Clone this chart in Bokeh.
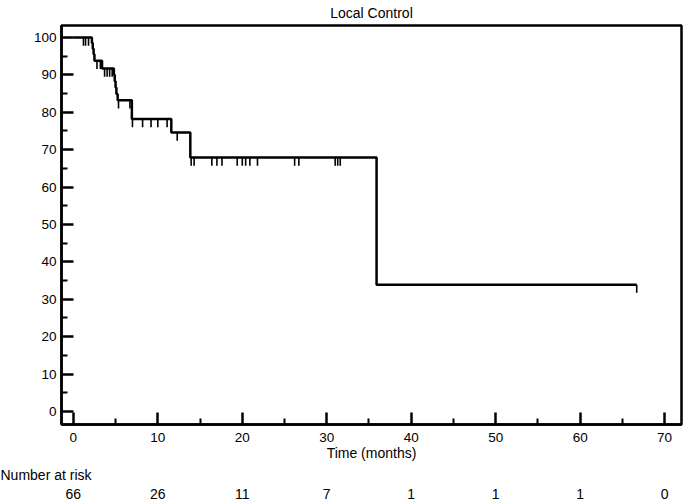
import numpy as np
from bokeh.plotting import figure
from bokeh.models import FixedTicker, Range1d, LinearAxis, Title
from bokeh.embed import file_html
from bokeh.resources import INLINE

# Kaplan-Meier step curve (event times in months, survival % after event)
step_times = [0, 2.2, 2.3, 2.4, 2.5, 3.4, 4.8, 4.9, 5.0, 5.1, 5.25, 6.93, 11.6, 13.85, 35.9, 66.7]
step_surv = [100, 98.5, 97.0, 95.5, 93.8, 91.7, 90.0, 88.3, 86.6, 84.9, 83.2, 78.2, 74.6, 67.9, 33.9, 33.9]

# censored observation times (months)
censor_times = [1.2, 1.45, 1.8, 2.8, 3.2, 3.7, 4.0, 4.3, 4.6, 5.35, 6.7, 7.0, 8.2, 9.2, 10.0,
                11.1, 12.3, 13.95, 14.3, 16.4, 17.0, 17.6, 19.4, 20.0, 20.4, 20.9, 21.8,
                26.2, 26.7, 31.0, 31.3, 31.6, 66.7]

# number at risk
risk_times = [0, 10, 20, 30, 40, 50, 60, 70]
risk_counts = ["66", "26", "11", "7", "1", "1", "1", "0"]

x_ticks = [0, 10, 20, 30, 40, 50, 60, 70]
y_ticks = [0, 10, 20, 30, 40, 50, 60, 70, 80, 90, 100]

FONT = "Liberation Sans"

p = figure(width=685, height=501, output_backend="svg", toolbar_location=None,
           x_range=Range1d(-1.4, 72), y_range=Range1d(-3.5, 103.2),
           min_border_left=61, min_border_right=4, min_border_top=25, min_border_bottom=20)
p.background_fill_color = "white"
p.border_fill_color = "white"
p.grid.visible = False
p.outline_line_color = "black"
p.outline_line_width = 2.5

title = Title(text="Local Control", align="center", vertical_align="top", text_font=FONT,
              text_font_size="14px", text_font_style="normal", text_color="black",
              standoff=5, offset=0)
p.add_layout(title, "above")

for ax in (p.xaxis, p.yaxis):
    ax.axis_line_width = 2.5
    ax.axis_line_color = "black"
    ax.major_tick_in = 12
    ax.major_tick_out = 0
    ax.minor_tick_in = 6
    ax.minor_tick_out = 0
    ax.major_tick_line_width = 2.5
    ax.minor_tick_line_width = 2
    ax.major_label_text_font = FONT
    ax.major_label_text_font_size = "13.5px"
    ax.major_label_text_color = "black"

p.xaxis.ticker = FixedTicker(ticks=x_ticks, minor_ticks=[t + 5 for t in x_ticks[:-1]])
p.yaxis.ticker = FixedTicker(ticks=y_ticks, minor_ticks=[t + 5 for t in y_ticks[:-1]])
p.xaxis.major_label_standoff = 8
p.yaxis.major_label_standoff = 5
p.xaxis.axis_label = "Time (months)"
p.xaxis.axis_label_text_font = FONT
p.xaxis.axis_label_text_font_size = "14px"
p.xaxis.axis_label_text_font_style = "normal"
p.xaxis.axis_label_text_color = "black"
p.xaxis.axis_label_standoff = 0

# "Number at risk" heading, then the counts, under the time axis
risk_title = Title(text="Number at risk", align="left", text_font=FONT, text_font_size="14px",
                   text_font_style="normal", text_color="black", offset=-61, standoff=2)
p.add_layout(risk_title, "below")

risk_axis = LinearAxis(ticker=FixedTicker(ticks=risk_times),
                       major_label_overrides=dict(zip(risk_times, risk_counts)),
                       axis_line_color=None, major_tick_line_color=None,
                       minor_tick_line_color=None, major_label_standoff=-1,
                       major_label_text_font=FONT, major_label_text_font_size="14px",
                       major_label_text_color="black")
p.add_layout(risk_axis, "below")

# survival curve
p.step(step_times, step_surv, mode="after", line_color="black", line_width=2.5)

# censor marks
st = np.array(step_times)
ss = np.array(step_surv)
ct = np.array(censor_times)
idx = np.searchsorted(st, ct, side="right") - 1
cs = ss[idx]
p.segment(x0=ct, y0=cs, x1=ct, y1=cs - 2.2, line_color="black", line_width=1.6)

open("out.html", "w").write(file_html(p, INLINE))
